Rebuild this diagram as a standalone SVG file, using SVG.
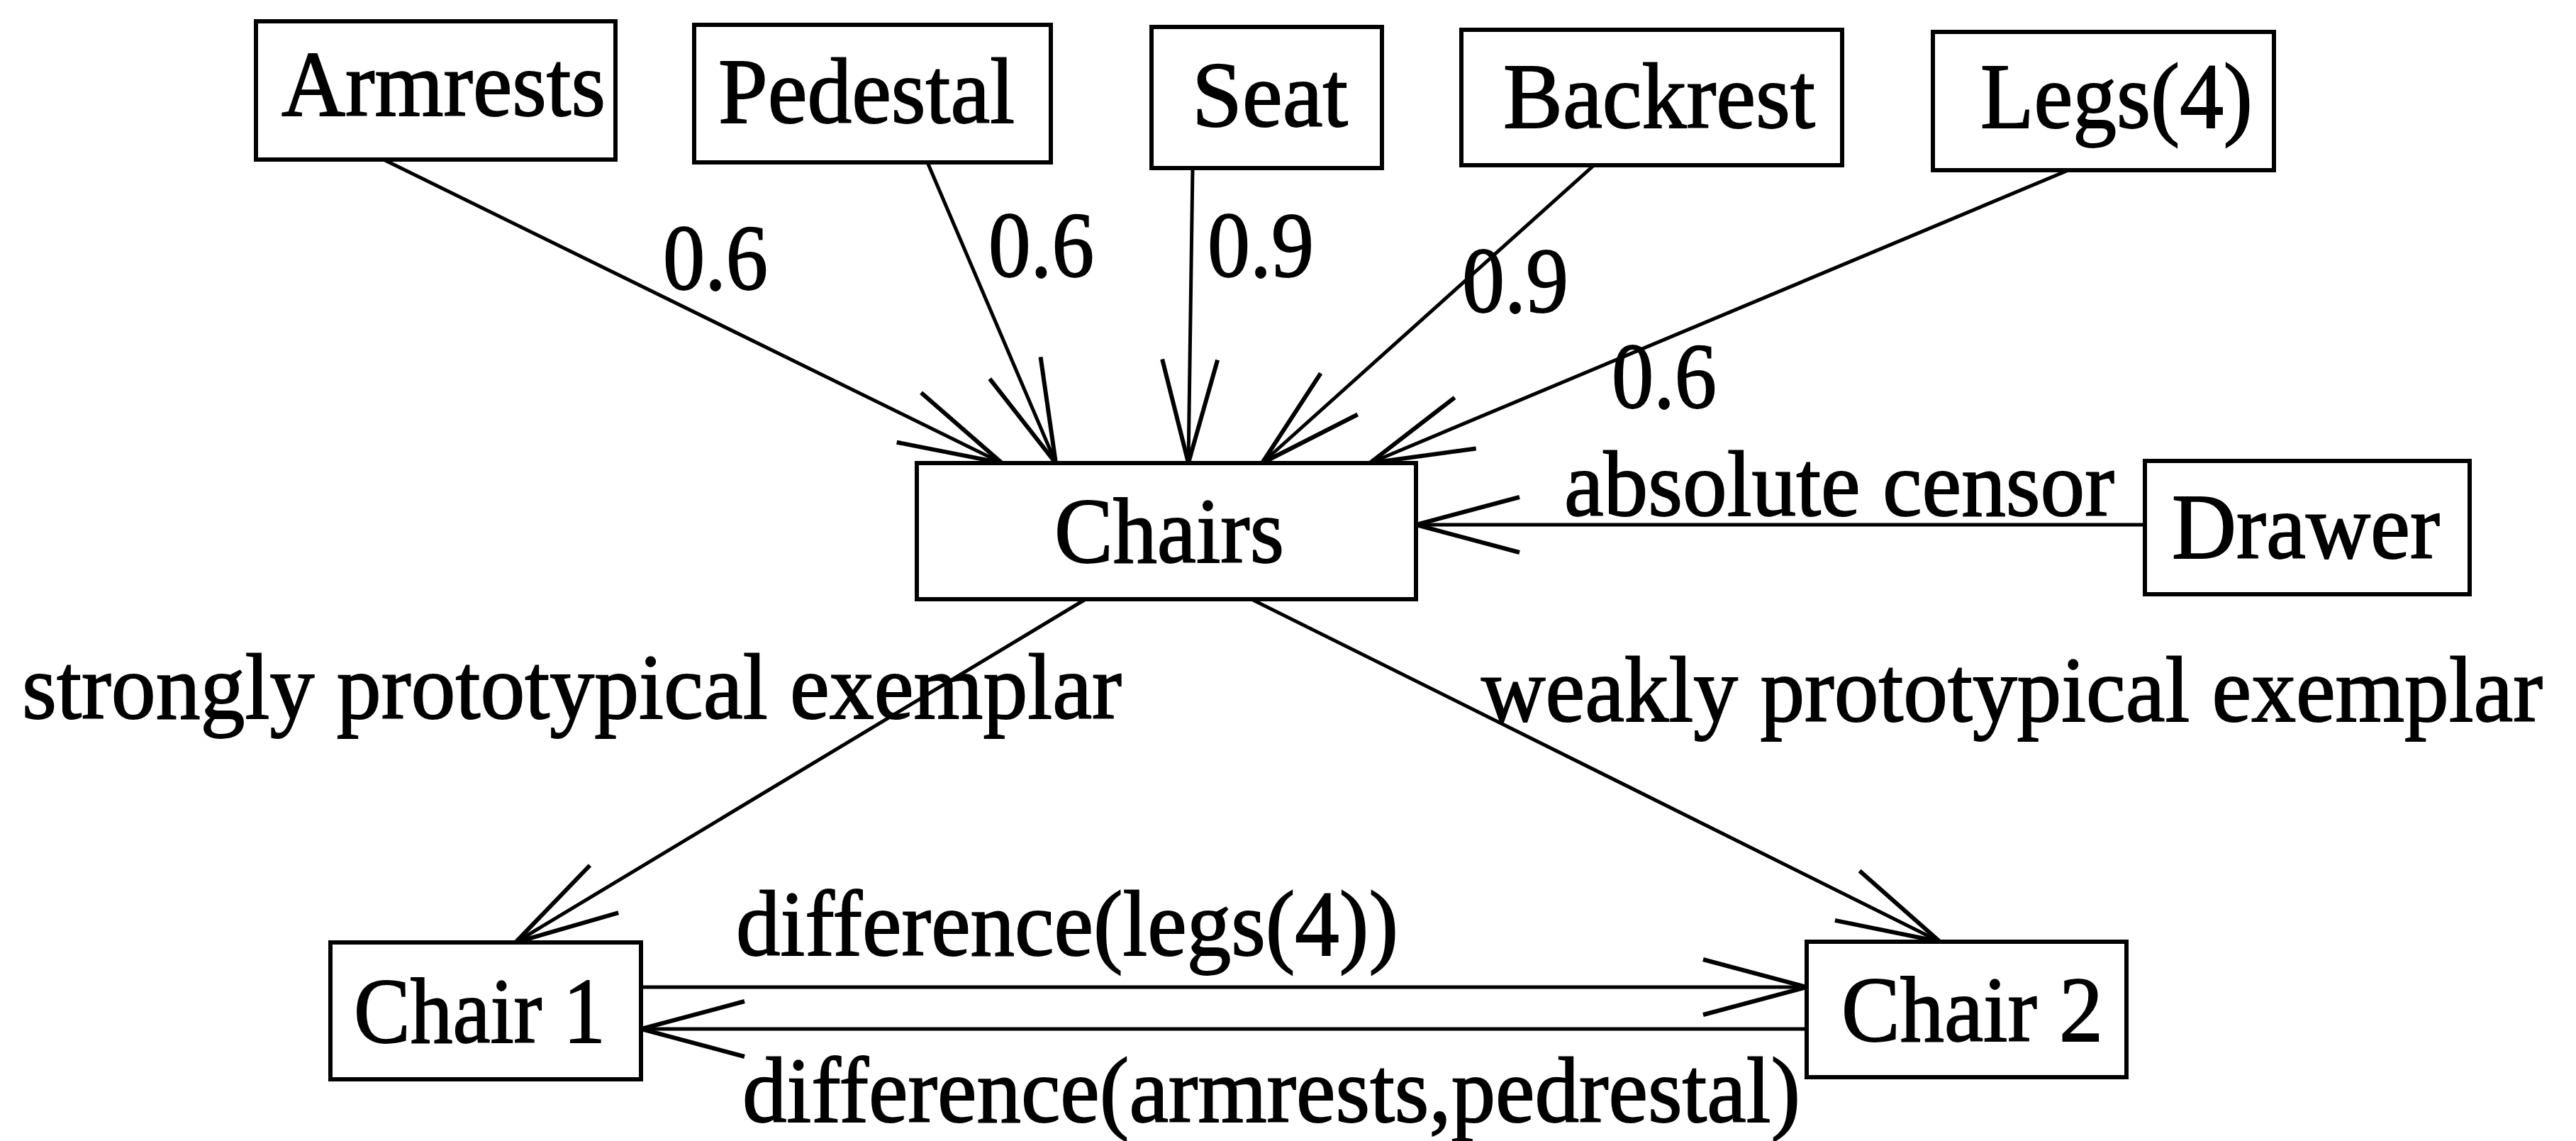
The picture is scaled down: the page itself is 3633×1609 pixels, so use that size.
<svg xmlns="http://www.w3.org/2000/svg" width="3633" height="1609" viewBox="0 0 3633 1609">
  <style>
    .box { fill: #ffffff; stroke: #000000; stroke-width: 6; }
    .lbl { font-family: "Liberation Serif", "Times New Roman", serif; font-size: 132px; fill: #000000; stroke: #000000; stroke-width: 1.8; }
    .edge { fill: none; stroke: #000000; stroke-width: 5; marker-end: url(#vhead); }
  </style>
  <defs>
    <!-- open V arrowhead, long thin barbs -->
    <marker id="vhead" markerUnits="userSpaceOnUse" markerWidth="320" markerHeight="320" viewBox="-160 -160 320 320" refX="0" refY="0" orient="auto" overflow="visible">
      <path d="M -146 -39 L 0 0 L -146 39" fill="none" stroke="#000000" stroke-width="6" stroke-linejoin="miter"/>
    </marker>
  </defs>

  <rect width="3633" height="1609" fill="#ffffff"/>

  <!-- connectors -->
  <g id="connectors">
    <line class="edge" x1="543" y1="226" x2="1413" y2="653"/>
    <line class="edge" x1="1308" y1="229" x2="1489" y2="653"/>
    <line class="edge" x1="1682" y1="237" x2="1676" y2="653"/>
    <line class="edge" x1="2248" y1="233" x2="1780" y2="653"/>
    <line class="edge" x1="2917" y1="240" x2="1932" y2="653"/>
    <line class="edge" x1="3025" y1="740" x2="1997" y2="740"/>
    <line class="edge" x1="1531" y1="845" x2="727" y2="1329"/>
    <line class="edge" x1="1765" y1="845" x2="2736" y2="1328"/>
    <line class="edge" x1="904" y1="1392" x2="2548" y2="1392"/>
    <line class="edge" x1="2548" y1="1451" x2="904" y2="1451"/>

    <!-- edge labels -->
    <text class="lbl" x="935" y="408" textLength="148" lengthAdjust="spacingAndGlyphs">0.6</text>
    <text class="lbl" x="1394" y="390" textLength="149" lengthAdjust="spacingAndGlyphs">0.6</text>
    <text class="lbl" x="1703" y="390" textLength="150" lengthAdjust="spacingAndGlyphs">0.9</text>
    <text class="lbl" x="2062" y="440" textLength="150" lengthAdjust="spacingAndGlyphs">0.9</text>
    <text class="lbl" x="2273" y="575" textLength="148" lengthAdjust="spacingAndGlyphs">0.6</text>
    <text class="lbl" x="2206" y="727" textLength="776" lengthAdjust="spacingAndGlyphs">absolute censor</text>
    <text class="lbl" x="31" y="1013" textLength="1551" lengthAdjust="spacingAndGlyphs">strongly prototypical exemplar</text>
    <text class="lbl" x="2089" y="1017" textLength="1497" lengthAdjust="spacingAndGlyphs">weakly prototypical exemplar</text>
    <text class="lbl" x="1038" y="1347" textLength="934" lengthAdjust="spacingAndGlyphs">difference(legs(4))</text>
    <text class="lbl" x="1047" y="1582" textLength="1492" lengthAdjust="spacingAndGlyphs">difference(armrests,pedrestal)</text>
  </g>

  <!-- nodes -->
  <g id="armrests">
    <rect class="box" x="361" y="30" width="507" height="195"/>
    <text class="lbl" x="397" y="163" textLength="457" lengthAdjust="spacingAndGlyphs">Armrests</text>
  </g>
  <g id="pedestal">
    <rect class="box" x="979" y="35" width="503" height="194"/>
    <text class="lbl" x="1013" y="173" textLength="418" lengthAdjust="spacingAndGlyphs">Pedestal</text>
  </g>
  <g id="seat">
    <rect class="box" x="1624" y="38" width="325" height="199"/>
    <text class="lbl" x="1681" y="178" textLength="220" lengthAdjust="spacingAndGlyphs">Seat</text>
  </g>
  <g id="backrest">
    <rect class="box" x="2061" y="42" width="537" height="191"/>
    <text class="lbl" x="2120" y="180" textLength="440" lengthAdjust="spacingAndGlyphs">Backrest</text>
  </g>
  <g id="legs">
    <rect class="box" x="2726" y="45" width="481" height="195"/>
    <text class="lbl" x="2793" y="180" textLength="384" lengthAdjust="spacingAndGlyphs">Legs(4)</text>
  </g>
  <g id="chairs">
    <rect class="box" x="1293" y="653" width="704" height="192"/>
    <text class="lbl" x="1487" y="793" textLength="324" lengthAdjust="spacingAndGlyphs">Chairs</text>
  </g>
  <g id="drawer">
    <rect class="box" x="3025" y="650" width="458" height="188"/>
    <text class="lbl" x="3063" y="787" textLength="378" lengthAdjust="spacingAndGlyphs">Drawer</text>
  </g>
  <g id="chair1">
    <rect class="box" x="466" y="1329" width="438" height="193"/>
    <text class="lbl" x="499" y="1470" textLength="355" lengthAdjust="spacingAndGlyphs">Chair 1</text>
  </g>
  <g id="chair2">
    <rect class="box" x="2548" y="1328" width="451" height="191"/>
    <text class="lbl" x="2597" y="1468" textLength="369" lengthAdjust="spacingAndGlyphs">Chair 2</text>
  </g>
</svg>
